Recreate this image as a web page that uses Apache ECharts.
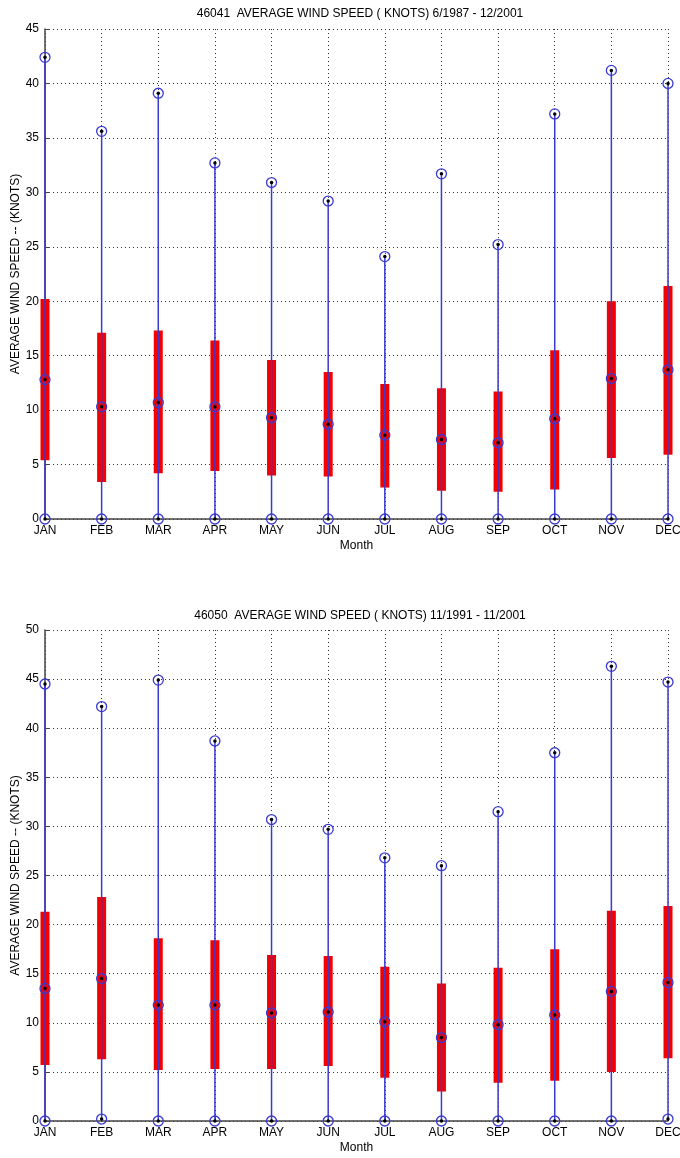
<!DOCTYPE html>
<html>
<head>
<meta charset="utf-8">
<script src="https://cdn.jsdelivr.net/npm/echarts@6/dist/echarts.min.js"></script>
<style>
html,body{margin:0;padding:0;background:#fff;}
#c{width:680px;height:1158px;}
</style>
</head>
<body>
<div id="c"></div>
<script>
const months = ['JAN','FEB','MAR','APR','MAY','JUN','JUL','AUG','SEP','OCT','NOV','DEC'];

// Station 46041
const title1 = '46041  AVERAGE WIND SPEED ( KNOTS) 6/1987 - 12/2001';
const max1  = [42.4, 35.6, 39.1, 32.7, 30.9, 29.2, 24.1, 31.7, 25.2, 37.2, 41.2, 40.0];
const high1 = [20.2, 17.1, 17.3, 16.4, 14.6, 13.5, 12.4, 12.0, 11.7, 15.5, 20.0, 21.4];
const mean1 = [12.8, 10.3, 10.7, 10.3, 9.3, 8.7, 7.7, 7.3, 7.0, 9.2, 12.9, 13.7];
const low1  = [5.4, 3.4, 4.2, 4.4, 4.0, 3.9, 2.9, 2.6, 2.5, 2.7, 5.6, 5.9];
const min1  = [0, 0, 0, 0, 0, 0, 0, 0, 0, 0, 0, 0];

// Station 46050
const title2 = '46050  AVERAGE WIND SPEED ( KNOTS) 11/1991 - 11/2001';
const max2  = [44.5, 42.2, 44.9, 38.7, 30.7, 29.7, 26.8, 26.0, 31.5, 37.5, 46.3, 44.7];
const high2 = [21.3, 22.8, 18.6, 18.4, 16.9, 16.8, 15.7, 14.0, 15.6, 17.5, 21.4, 21.9];
const mean2 = [13.5, 14.5, 11.8, 11.8, 11.0, 11.1, 10.1, 8.5, 9.8, 10.8, 13.2, 14.1];
const low2  = [5.7, 6.3, 5.2, 5.3, 5.3, 5.6, 4.4, 3.0, 3.9, 4.1, 5.0, 6.4];
const min2  = [0, 0.2, 0, 0, 0, 0, 0, 0, 0, 0, 0, 0.2];

const yTicks1 = {min: 0, max: 45, interval: 5};
const yTicks2 = {min: 0, max: 50, interval: 5};

const FONT = 'Liberation Sans, Arial, sans-serif';
const BLUE = '#3a3ad0';
const RED = '#f40000';

function xAxisFor(gi) {
  return {
    type: 'category', gridIndex: gi, data: months, boundaryGap: false,
    name: 'Month', nameLocation: 'middle', nameGap: 21, nameMoveOverlap: false,
    nameTextStyle: {color: '#000', fontSize: 12, fontFamily: FONT},
    axisLine: {show: true, lineStyle: {color: '#444', width: 1.5}},
    axisTick: {show: true, inside: true, length: 5, lineStyle: {color: '#444'}},
    axisLabel: {color: '#000', fontSize: 12, fontFamily: FONT, margin: 6, interval: 0},
    splitLine: {show: true, lineStyle: {color: '#333', type: [1, 3], width: 1}}
  };
}
function yAxisFor(gi, t) {
  return {
    type: 'value', gridIndex: gi, min: t.min, max: t.max, interval: t.interval,
    name: 'AVERAGE WIND SPEED -- (KNOTS)', nameLocation: 'middle', nameGap: 23, nameRotate: 90,
    nameMoveOverlap: false,
    nameTextStyle: {color: '#000', fontSize: 12, fontFamily: FONT},
    axisLine: {show: true, lineStyle: {color: '#444', width: 1.5}},
    axisTick: {show: true, inside: true, length: 5, lineStyle: {color: '#444'}},
    axisLabel: {color: '#000', fontSize: 12, fontFamily: FONT, margin: 6},
    splitLine: {show: true, lineStyle: {color: '#333', type: [1, 3], width: 1}}
  };
}

function seriesFor(gi, mx, hi, mean, lo, mn) {
  const idx = months.map((m, i) => i);
  return [
    {
      type: 'custom', xAxisIndex: gi, yAxisIndex: gi, zlevel: 1, z: 2,
      data: idx.map(i => [i, lo[i], hi[i]]),
      renderItem: (params, api) => {
        const a = api.coord([api.value(0), api.value(1)]);
        const b = api.coord([api.value(0), api.value(2)]);
        return {type: 'rect', shape: {x: a[0] - 4.5, y: b[1], width: 9, height: a[1] - b[1]}, style: {fill: RED}};
      }
    },
    {
      type: 'custom', xAxisIndex: gi, yAxisIndex: gi, zlevel: 1, z: 3,
      data: idx.map(i => [i, mn[i], mx[i]]),
      renderItem: (params, api) => {
        const a = api.coord([api.value(0), api.value(1)]);
        const b = api.coord([api.value(0), api.value(2)]);
        return {type: 'line', shape: {x1: a[0], y1: a[1], x2: b[0], y2: b[1]}, style: {stroke: BLUE, lineWidth: 1.5}};
      }
    },
    {
      type: 'scatter', xAxisIndex: gi, yAxisIndex: gi, zlevel: 1, z: 4, clip: false, silent: true,
      symbol: 'circle', symbolSize: 10,
      itemStyle: {color: 'rgba(0,0,0,0)', borderColor: BLUE, borderWidth: 1.3, opacity: 1},
      data: idx.flatMap(i => [[i, mx[i]], [i, mean[i]], [i, mn[i]]])
    },
    {
      type: 'scatter', xAxisIndex: gi, yAxisIndex: gi, zlevel: 1, z: 5, clip: false, silent: true,
      symbol: 'circle', symbolSize: 3.5,
      itemStyle: {color: '#000', opacity: 1},
      data: idx.flatMap(i => [[i, mx[i]], [i, mean[i]], [i, mn[i]]])
    }
  ];
}

const chart = echarts.init(document.getElementById('c'), null, {renderer: 'canvas'});
chart.setOption({
  animation: false,
  backgroundColor: '#fff',
  title: [
    {text: title1, left: 355, top: 3, textAlign: 'center', textStyle: {color: '#000', fontSize: 12, fontWeight: 'normal', fontFamily: FONT}},
    {text: title2, left: 355, top: 605, textAlign: 'center', textStyle: {color: '#000', fontSize: 12, fontWeight: 'normal', fontFamily: FONT}}
  ],
  grid: [
    {left: 45, right: 12, top: 29, height: 490, containLabel: false, outerBoundsMode: 'none'},
    {left: 45, right: 12, top: 630, height: 491, containLabel: false, outerBoundsMode: 'none'}
  ],
  xAxis: [xAxisFor(0), xAxisFor(1)],
  yAxis: [yAxisFor(0, yTicks1), yAxisFor(1, yTicks2)],
  series: [
    ...seriesFor(0, max1, high1, mean1, low1, min1),
    ...seriesFor(1, max2, high2, mean2, low2, min2)
  ]
});
</script>
</body>
</html>
